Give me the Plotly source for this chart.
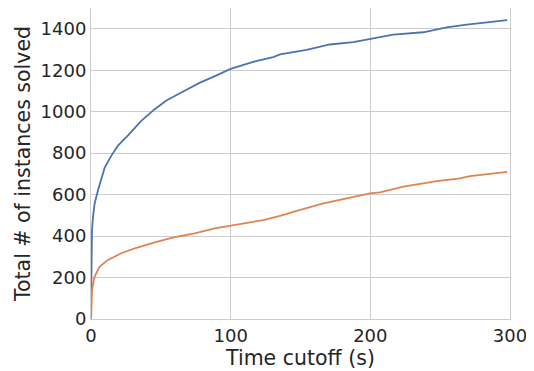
import plotly.graph_objects as go

t_blue = [0, 0.24, 0.72, 1.43, 2.6, 5, 7.4, 9.8, 14.6, 19.3, 26.5, 36, 45.6, 54, 64, 78, 90, 99.5, 111.5, 117.4, 130.5, 135.3, 154.4, 171, 187.8, 199.7, 206.9, 216.4, 237.9, 254.7, 269, 285.7, 298]
v_blue = [50, 253, 429, 493, 557, 621, 680, 730, 788, 836, 886, 956, 1012, 1054, 1090, 1140, 1175, 1205, 1231, 1243, 1263, 1276, 1298, 1324, 1335, 1351, 1359, 1372, 1383, 1407, 1420, 1434, 1442]

t_orange = [0, 0.2, 0.72, 2.6, 6.2, 12.2, 21.7, 31.3, 40.3, 45.6, 59.9, 74.2, 88.5, 99.5, 123.4, 135.3, 147.3, 166.4, 178.3, 190.2, 199.7, 206.9, 223.6, 247.5, 264.2, 271.4, 285.7, 298]
v_orange = [0, 20, 141, 205, 253, 285, 317, 341, 359, 370, 395, 413, 437, 449, 477, 497, 522, 558, 574, 593, 606, 611, 638, 665, 678, 689, 699, 710]

x_ticks = [0, 100, 200, 300]
y_ticks = [0, 200, 400, 600, 800, 1000, 1200, 1400]

fig = go.Figure()
fig.add_trace(go.Scatter(x=t_blue, y=v_blue, mode="lines",
                         line=dict(color="#4c72b0", width=1.8), showlegend=False))
fig.add_trace(go.Scatter(x=t_orange, y=v_orange, mode="lines",
                         line=dict(color="#dd8452", width=1.8), showlegend=False))

font = dict(family="DejaVu Sans", size=18, color="#262626")
fig.update_layout(
    width=526, height=363,
    margin=dict(l=83, r=24, t=0, b=52),
    paper_bgcolor="white", plot_bgcolor="white",
    font=font,
)
fig.update_xaxes(range=[0, 300], tickvals=x_ticks, showgrid=True, gridcolor="#cccccc",
                 gridwidth=1, zeroline=False, showline=True, linecolor="#cccccc", mirror=True,
                 ticks="", title=dict(text="Time cutoff (s)", font=dict(size=20.5), standoff=0))
fig.update_yaxes(range=[0, 1500], tickvals=y_ticks, showgrid=True, gridcolor="#cccccc",
                 gridwidth=1, zeroline=False, showline=True, linecolor="#cccccc", mirror=True,
                 ticks="", title=dict(text="Total # of instances solved", font=dict(size=20.5), standoff=4))

fig.write_html("out.html")
